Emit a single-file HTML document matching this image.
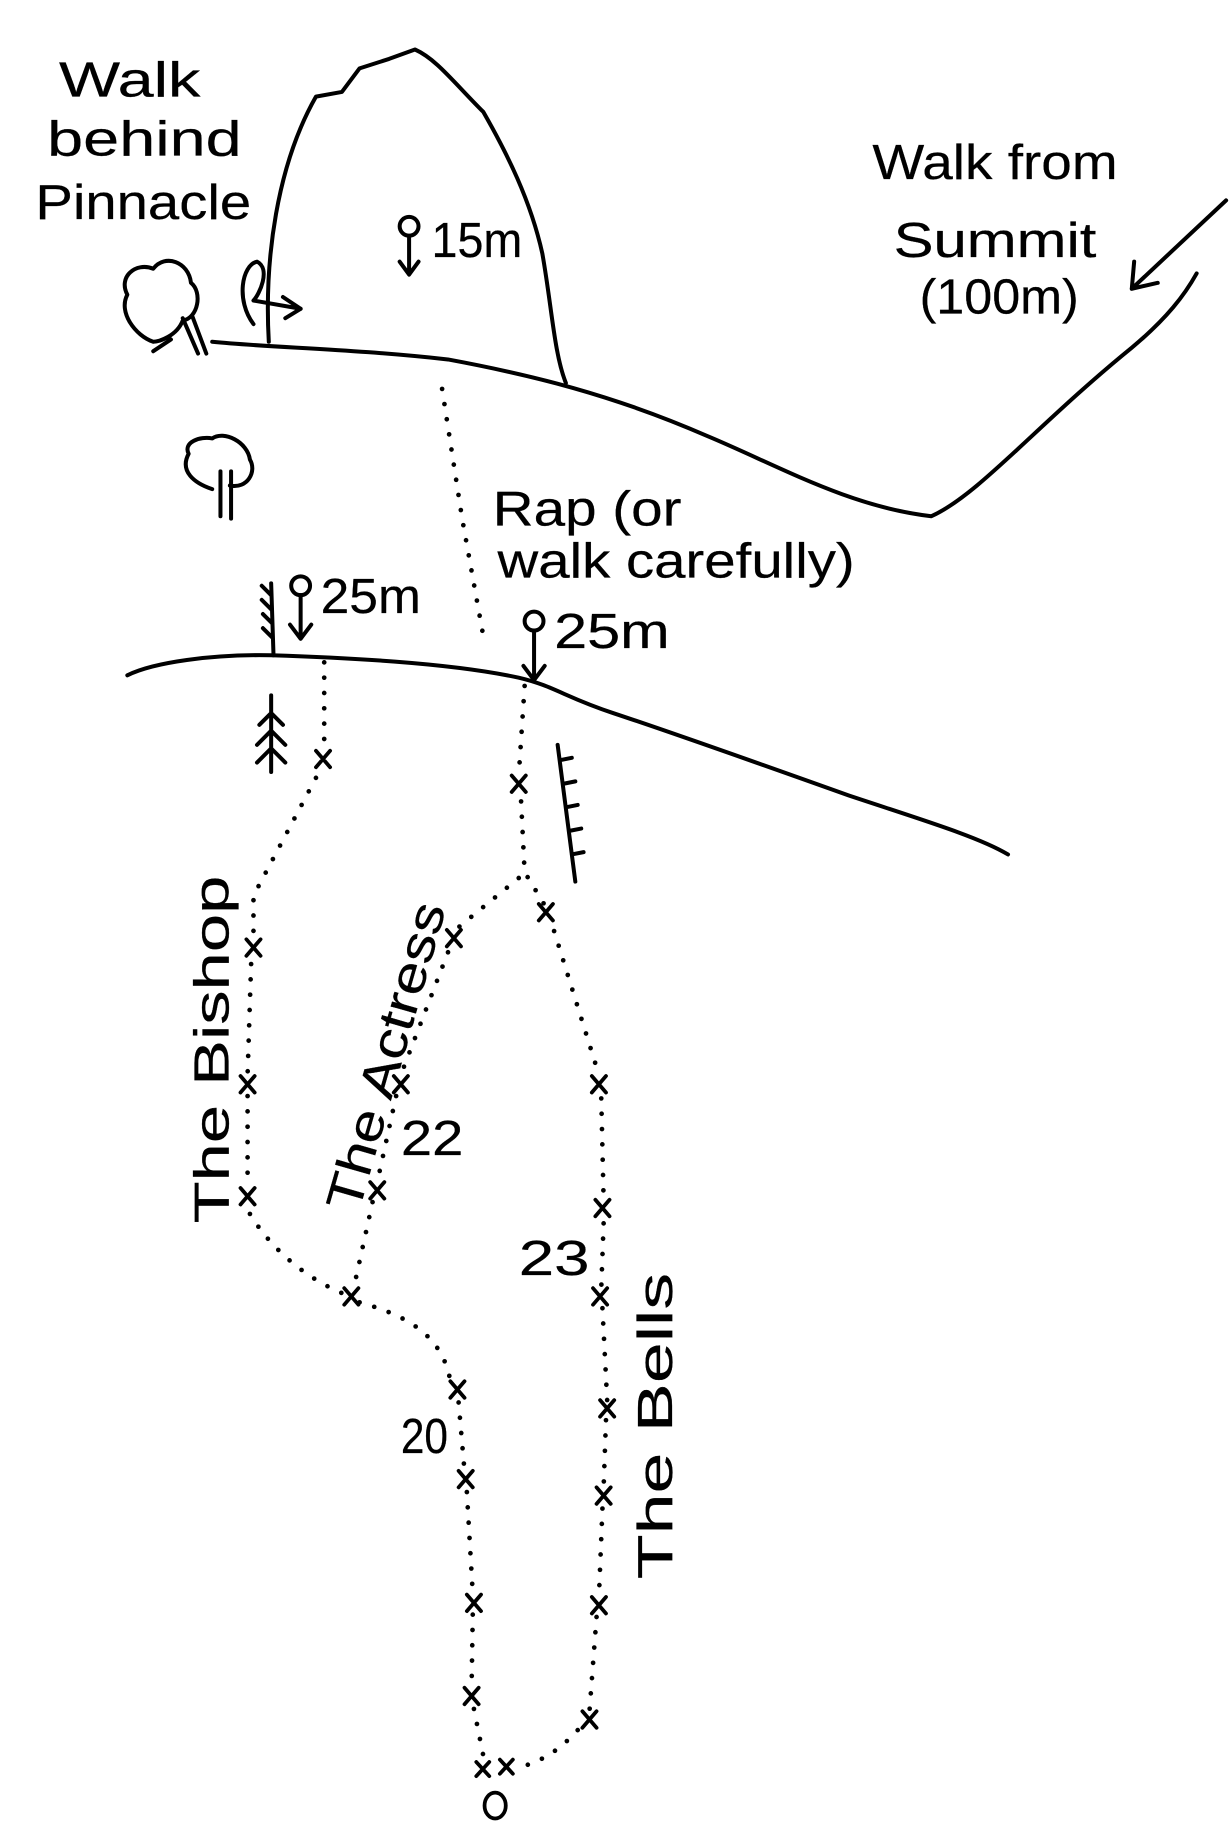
<!DOCTYPE html>
<html><head><meta charset="utf-8"><style>
html,body{margin:0;padding:0;background:#fff;}
svg{display:block}
text{font-family:"Liberation Sans",sans-serif;fill:#000;font-size:42px;stroke:#000;stroke-width:0.2;}
</style></head><body>
<svg width="1232" height="1848" viewBox="0 0 1045 1568" preserveAspectRatio="none" xmlns="http://www.w3.org/2000/svg">
<g fill="none" stroke="#000" stroke-width="3.4" stroke-linecap="round" stroke-linejoin="round">
<path d="M228,290 C224,220 235,140 268,82 L290,78 L305,58 L330,50 L352,42 C370,50 385,70 410,95 C430,130 450,170 460,215 C468,260 470,300 480,325"/>
<path d="M180,290 C230,295 300,296 380,305 C450,318 520,335 600,370 C660,395 720,430 790,438 C830,420 880,360 960,295 C990,270 1005,250 1015,232"/>
<path d="M1040,170 L960,245 M960,245 L962,222 M960,245 L982,240"/>
<path d="M215,275 C200,255 205,225 218,222 C230,228 220,250 215,255 L255,262 M255,262 L240,252 M255,262 L242,270"/>
<path d="M108,573 C130,562 180,555 230,556 C290,558 380,562 440,575 C470,582 480,592 520,605 C580,625 650,650 720,675 C780,695 830,710 855,725"/>
<circle cx="347" cy="192" r="8"/><path d="M347,200 L347,232 M339,222 L347,233 L355,222"/>
<circle cx="255" cy="497" r="8"/><path d="M255,505 L255,540 M246,530 L255,542 L264,530"/>
<circle cx="453" cy="527" r="8"/><path d="M453,535 L453,575 M444,565 L453,577 L462,565"/>
<path d="M230,495 L232,556 M230,505 L222,497 M230,517 L222,509 M231,529 L223,521 M231,541 L223,533"/>
<path d="M473,632 L488,748 M475,645 L485,643 M478,665 L488,663 M480,685 L490,683 M483,705 L493,703 M485,725 L495,723"/>
<path d="M230,590 L230,655 M230,605 L220,615 M230,605 L240,615 M230,620 L218,632 M230,620 L242,632 M230,635 L218,647 M230,635 L242,647"/>
<path d="M130,290 C115,285 100,265 108,250 C100,235 115,222 130,228 C140,215 160,222 162,240 C172,248 168,270 155,272 C150,285 135,290 130,290 M155,270 L168,300 M163,268 L175,300 M145,288 L130,298"/>
<path d="M180,415 C165,410 152,400 160,385 C155,375 170,370 180,372 C190,365 210,375 212,390 C218,400 210,415 195,412 M187,400 L187,438 M196,400 L196,440"/>
</g>
<g fill="none" stroke="#000" stroke-width="4" stroke-linecap="round" stroke-dasharray="0 13">
<path d="M375,330 L392,440 L410,540"/>
<path d="M275,562 L275,640 M268,660 L215,760 L215,800 M213,818 L210,912 M210,930 L210,1008 M212,1030 C230,1060 260,1085 292,1098 M305,1105 C340,1115 375,1130 382,1172 M389,1190 L394,1248 M396,1266 L401,1352 M401,1370 L400,1432 M402,1450 L410,1490"/>
<path d="M440,745 L385,790 M380,808 L340,912 M336,930 L320,1003 M316,1020 L300,1093"/>
<path d="M445,582 L440,658 M442,680 L445,740 L462,768 M470,790 L508,912 M510,932 L512,1018 M512,1038 L510,1093 M511,1110 L515,1188 M514,1205 L512,1262 M511,1280 L508,1355 M506,1372 L500,1452 M490,1468 C470,1490 455,1495 440,1500"/>
</g>
<g fill="none" stroke="#000" stroke-width="3.2" stroke-linecap="round">
<path d="M268,637 l12,14 m0,-14 l-12,14 M434,658 l12,14 m0,-14 l-12,14 M209,797 l12,14 m0,-14 l-12,14 M379,789 l12,14 m0,-14 l-12,14 M457,767 l12,14 m0,-14 l-12,14 M204,913 l12,14 m0,-14 l-12,14 M334,913 l12,14 m0,-14 l-12,14 M502,913 l12,14 m0,-14 l-12,14 M204,1008 l12,14 m0,-14 l-12,14 M314,1003 l12,14 m0,-14 l-12,14 M505,1018 l12,14 m0,-14 l-12,14 M292,1093 l12,14 m0,-14 l-12,14 M503,1093 l12,14 m0,-14 l-12,14 M382,1172 l12,14 m0,-14 l-12,14 M509,1188 l12,14 m0,-14 l-12,14 M389,1248 l12,14 m0,-14 l-12,14 M506,1262 l12,14 m0,-14 l-12,14 M396,1353 l12,14 m0,-14 l-12,14 M502,1355 l12,14 m0,-14 l-12,14 M394,1432 l12,14 m0,-14 l-12,14 M494,1452 l12,14 m0,-14 l-12,14 M404,1495 l11,12 m0,-12 l-11,12 M424,1493 l11,12 m0,-12 l-11,12"/>
<ellipse cx="420" cy="1532" rx="9" ry="11"/>
</g>
<text x="50" y="82" textLength="120" lengthAdjust="spacingAndGlyphs">Walk</text>
<text x="40" y="132" textLength="165" lengthAdjust="spacingAndGlyphs">behind</text>
<text x="30" y="186" textLength="183" lengthAdjust="spacingAndGlyphs">Pinnacle</text>
<text x="366" y="218" textLength="77" lengthAdjust="spacingAndGlyphs">15m</text>
<text x="740" y="152" textLength="208" lengthAdjust="spacingAndGlyphs">Walk from</text>
<text x="758" y="218" textLength="172" lengthAdjust="spacingAndGlyphs">Summit</text>
<text x="780" y="266" textLength="135" lengthAdjust="spacingAndGlyphs">(100m)</text>
<text x="418" y="446" textLength="160" lengthAdjust="spacingAndGlyphs">Rap (or</text>
<text x="422" y="490" textLength="303" lengthAdjust="spacingAndGlyphs">walk carefully)</text>
<text x="272" y="520" textLength="85" lengthAdjust="spacingAndGlyphs">25m</text>
<text x="470" y="550" textLength="98" lengthAdjust="spacingAndGlyphs">25m</text>
<text x="340" y="980" textLength="53" lengthAdjust="spacingAndGlyphs">22</text>
<text x="440" y="1082" textLength="60" lengthAdjust="spacingAndGlyphs">23</text>
<text x="340" y="1233" textLength="40" lengthAdjust="spacingAndGlyphs">20</text>
<text transform="translate(194,1038) rotate(-90)" textLength="295" lengthAdjust="spacingAndGlyphs">The Bishop</text>
<text transform="translate(304,1030) rotate(-74)" textLength="270" lengthAdjust="spacingAndGlyphs">The Actress</text>
<text transform="translate(570,1340) rotate(-90)" textLength="260" lengthAdjust="spacingAndGlyphs">The Bells</text>
</svg>
</body></html>
